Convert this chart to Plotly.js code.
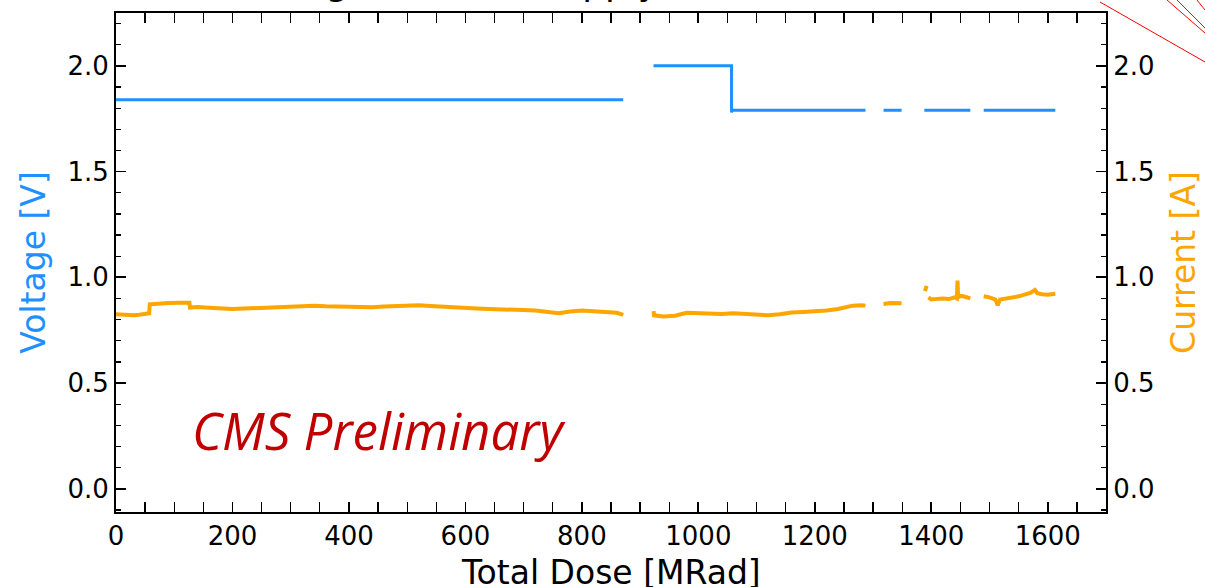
<!DOCTYPE html>
<html>
<head>
<meta charset="utf-8">
<script src="https://cdn.plot.ly/plotly-3.0.1.min.js"></script>
<style>html,body{margin:0;padding:0;background:#fff;}#chart{width:1205px;height:587px;}</style>
</head>
<body>
<div id="chart"></div>
<script>
// ---- data ----
const doseV = [0, 871, null, 923, 1057, 1057, 1058, 1287, null, 1318, 1349, null, 1388, 1467, null, 1490, 1613];
const voltage = [1.84, 1.84, null, 2.0, 2.0, 1.78, 1.79, 1.79, null, 1.79, 1.79, null, 1.79, 1.79, null, 1.79, 1.79];

const doseI = [
  0, 10, 20, 30, 40, 50, 57, 58, 70, 90, 110, 126, 127, 140, 160, 180, 200, 220, 240, 260, 280, 300,
  320, 340, 360, 380, 400, 420, 440, 460, 480, 500, 520, 540, 560, 580, 600, 620, 640, 660, 680, 700,
  720, 740, 760, 780, 800, 820, 840, 860, 871, null,
  923, 924, 940, 960, 980, 1000, 1020, 1040, 1060, 1080, 1100, 1120, 1140, 1160, 1180, 1200, 1220,
  1240, 1255, 1265, 1280, 1287, null,
  1318, 1330, 1349, null,
  1389, 1392, null,
  1395, 1400, 1410, 1420, 1430, 1440, 1444, 1445, 1446, 1450, 1455, 1460, 1467, null,
  1490, 1500, 1510, 1514, 1518, 1530, 1540, 1550, 1560, 1570, 1578, 1582, 1590, 1600, 1613
];
const current = [
  0.825, 0.823, 0.822, 0.820, 0.823, 0.826, 0.830, 0.872, 0.876, 0.878, 0.880, 0.880, 0.857, 0.860, 0.856, 0.853, 0.850, 0.852, 0.855, 0.857, 0.858, 0.862,
  0.864, 0.866, 0.863, 0.862, 0.858, 0.856, 0.858, 0.862, 0.864, 0.866, 0.868, 0.864, 0.860, 0.857, 0.855, 0.852, 0.850, 0.847, 0.846, 0.845,
  0.843, 0.835, 0.830, 0.838, 0.843, 0.840, 0.838, 0.832, 0.822, null,
  0.840, 0.820, 0.815, 0.818, 0.832, 0.830, 0.825, 0.826, 0.830, 0.827, 0.822, 0.820, 0.825, 0.833, 0.836, 0.838, 0.843,
  0.850, 0.858, 0.866, 0.868, 0.866, null,
  0.874, 0.878, 0.877, null,
  0.935, 0.960, null,
  0.905, 0.895, 0.898, 0.900, 0.897, 0.905, 0.900, 0.985, 0.905, 0.912, 0.910, 0.905, 0.900, null,
  0.910, 0.905, 0.895, 0.868, 0.895, 0.900, 0.905, 0.910, 0.918, 0.926, 0.940, 0.925, 0.920, 0.918, 0.922
];

const xTickVals = [0, 200, 400, 600, 800, 1000, 1200, 1400, 1600];
const yTickVals = [0, 0.5, 1.0, 1.5, 2.0];

// ---- layout helpers ----
const L = 116, R = 1106, T = 13, B = 512;
const W = 1205, H = 587;
function px(x) { return (x - L) / (R - L); }
function py(y) { return (B - y) / (B - T); }

const font = 'DejaVu Sans, sans-serif';

const traces = [
  { x: doseV, y: voltage, type: 'scatter', mode: 'lines', connectgaps: false,
    line: { color: '#1E90FF', width: 3 }, yaxis: 'y', hoverinfo: 'skip' },
  { x: doseI, y: current, type: 'scatter', mode: 'lines', connectgaps: false,
    line: { color: '#FFA500', width: 4 }, yaxis: 'y2', hoverinfo: 'skip' }
];

const yRange = [-0.11, 2.25];

const redLines = [
  [1100, 2, 1205, 62],
  [1167, 0, 1205, 33],
  [1177, 0, 1205, 28],
  [1197, 0, 1205, 10]
].map(([x0, y0, x1, y1]) => ({
  type: 'line', xref: 'paper', yref: 'paper',
  x0: px(x0), y0: py(y0), x1: px(x1), y1: py(y1),
  line: { color: '#FF0000', width: 1 }
}));

const tickFont = { family: font, size: 26, color: '#000' };

const layout = {
  width: W, height: H,
  margin: { l: L, r: W - R, t: T, b: H - B, pad: 0 },
  paper_bgcolor: '#ffffff', plot_bgcolor: '#ffffff',
  showlegend: false,
  font: { family: font, color: '#000', size: 22 },
  xaxis: {
    range: [0, 1700], tickvals: xTickVals, ticktext: xTickVals.map(String),
    ticks: 'inside', ticklen: 10, tickwidth: 1.8, tickcolor: '#000',
    minor: { ticks: 'inside', dtick: 50, tick0: 0, ticklen: 5, tickwidth: 1.3, tickcolor: '#000' },
    showline: true, linecolor: '#000', linewidth: 2, mirror: 'allticks',
    showgrid: false, zeroline: false,
    tickfont: tickFont
  },
  yaxis: {
    range: yRange, tickvals: yTickVals, tickformat: '.1f',
    ticks: 'inside', ticklen: 10, tickwidth: 1.8, tickcolor: '#000',
    minor: { ticks: 'inside', dtick: 0.1, tick0: 0, ticklen: 5, tickwidth: 1.3, tickcolor: '#000' },
    showline: true, linecolor: '#000', linewidth: 2, mirror: true,
    showgrid: false, zeroline: false,
    tickfont: tickFont,
    title: { text: 'Voltage [V]', font: { family: font, size: 33, color: '#1E90FF' }, standoff: 12 }
  },
  yaxis2: {
    range: yRange, tickvals: yTickVals, tickformat: '.1f', overlaying: 'y', side: 'right',
    ticks: 'inside', ticklen: 10, tickwidth: 1.8, tickcolor: '#000',
    minor: { ticks: 'inside', dtick: 0.1, tick0: 0, ticklen: 5, tickwidth: 1.3, tickcolor: '#000' },
    showline: true, linecolor: '#000', linewidth: 2,
    showgrid: false, zeroline: false,
    tickfont: tickFont,
    title: { text: 'Current [A]', font: { family: font, size: 33, color: '#FFA500' }, standoff: 18 }
  },
  shapes: redLines,
  annotations: [
    { text: 'Total Dose [MRad]', xref: 'paper', yref: 'paper', x: 0.5, y: py(572),
      xanchor: 'center', yanchor: 'middle', showarrow: false,
      font: { family: font, size: 33, color: '#000' } },
    { text: 'CMS Preliminary', xref: 'paper', yref: 'paper', x: px(190), y: py(430),
      xanchor: 'left', yanchor: 'middle', showarrow: false,
      font: { family: 'Open Sans, sans-serif', size: 51, color: '#C00000', style: 'italic' } },
    { text: 'Digital Power Supply', xref: 'paper', yref: 'paper', x: px(286), y: py(5),
      xanchor: 'left', yanchor: 'bottom', showarrow: false,
      font: { family: font, size: 36, color: '#000' } }
  ]
};

Plotly.newPlot('chart', traces, layout, { staticPlot: true, displayModeBar: false });
</script>
</body>
</html>
